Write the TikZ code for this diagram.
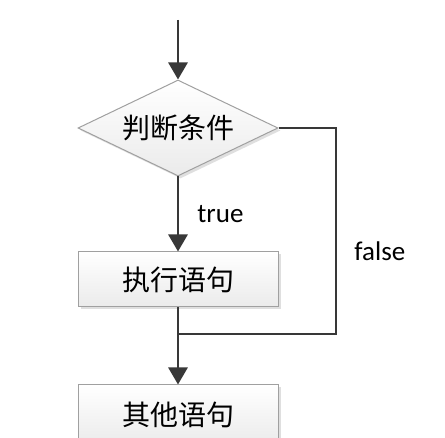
\documentclass[tikz,border=0pt]{standalone}
\usepackage{fontspec}
\setmainfont{Carlito}
\newfontfamily\cjk{Noto Sans CJK SC}
\usetikzlibrary{shapes.geometric,arrows.meta,shadows}
\definecolor{linec}{HTML}{383838}
\definecolor{borderc}{HTML}{A0A0A0}
\tikzset{
  x=1pt, y=1pt,
  flow/.style={draw=linec, line width=2.9pt},
  arr/.style={flow, -{Triangle[width=19pt,length=17pt]}},
  shapefill/.style={draw=borderc, line width=1pt, top color=white, bottom color=gray!16,
    drop shadow={shadow xshift=2.5pt, shadow yshift=-2.5pt, opacity=0.25, fill=gray}},
  procbox/.style={shapefill, rectangle, minimum width=200pt, minimum height=55pt, inner sep=0pt,
    font=\cjk\fontsize{28}{30}\selectfont},
  decision/.style={shapefill, diamond, aspect=2.08, minimum width=200pt, minimum height=96pt, inner sep=0pt,
    font=\cjk\fontsize{28}{30}\selectfont},
  lbl/.style={font=\fontsize{27}{30}\selectfont, inner sep=0pt}
}
\begin{document}
\begin{tikzpicture}
\useasboundingbox (0,0) rectangle (445,438);
\clip (0,0) rectangle (445,438);
\fill[white] (0,0) rectangle (445,438);
\coordinate (start) at (178,418);
\node[decision] (cond) at (178,310) {判断条件};
\node[procbox] (exec) at (178,158.5) {执行语句};
\node[procbox, minimum height=60pt] (other) at (178,23) {其他语句};
\coordinate (rc) at (336,310);
\coordinate (rb) at (336,104);
\coordinate (merge) at (178,104);
\draw[arr] (start) -- (cond.north);
\draw[arr] (cond.south) -- node[lbl, right=18pt, pos=0.5] (tlab) {true} (exec.north);
\draw[flow] (cond.east) -- (rc) -- node[lbl, right=17pt, pos=0.6] (flab) {false} (rb) -- (merge);
\draw[arr] (exec.south) -- (other.north);
\end{tikzpicture}
\end{document}
